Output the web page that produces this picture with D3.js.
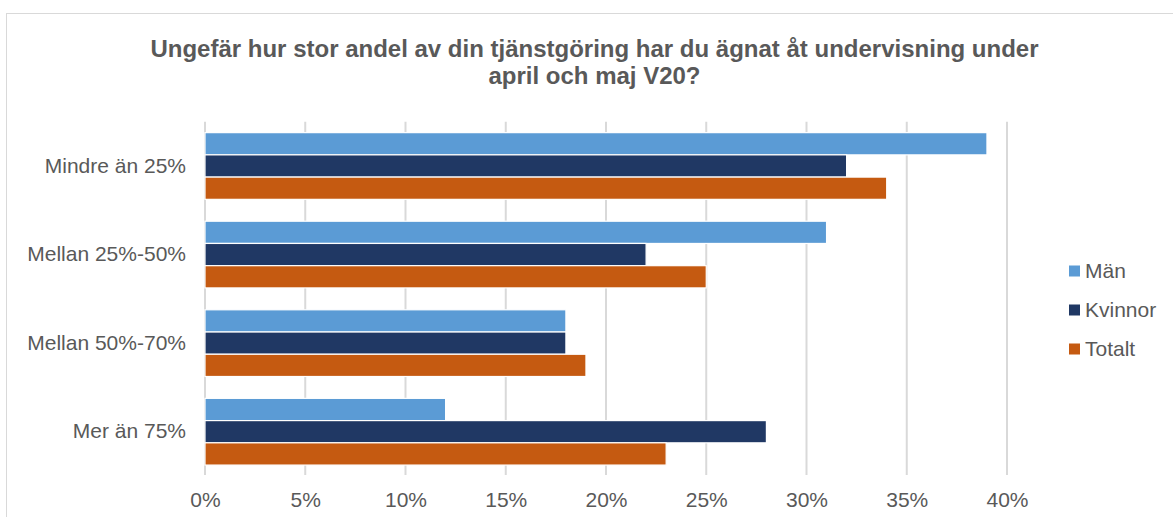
<!DOCTYPE html>
<html>
<head>
<meta charset="utf-8">
<script src="https://cdn.jsdelivr.net/npm/d3@7"></script>
<style>
  body { margin: 0; background: #fff; }
  text { font-family: "Liberation Sans", Arial, sans-serif; }
</style>
</head>
<body>
<svg id="vis" width="1173" height="517"></svg>
<script>
// data
var categories = ["Mindre än 25%", "Mellan 25%-50%", "Mellan 50%-70%", "Mer än 75%"];
var seriesNames = ["Män", "Kvinnor", "Totalt"];
var man = [39, 31, 18, 12];
var kvinnor = [32, 22, 18, 28];
var totalt = [34, 25, 19, 23];
var xTicks = [0, 5, 10, 15, 20, 25, 30, 35, 40];
var titleLines = ["Ungefär hur stor andel av din tjänstgöring har du ägnat åt undervisning under",
                  "april och maj V20?"];

var colors = ["#5B9BD5", "#203864", "#C55A11"];
var seriesValues = [man, kvinnor, totalt];

var svg = d3.select("#vis"),
    width = +svg.attr("width"),
    height = +svg.attr("height");

// chart border
svg.append("rect")
    .attr("x", 6.5).attr("y", 13.5)
    .attr("width", 1176).attr("height", 520)
    .attr("fill", "#fff")
    .attr("stroke", "#D9D9D9")
    .attr("stroke-width", 1);

// title
svg.append("g")
    .selectAll("text")
    .data(titleLines)
    .enter().append("text")
      .attr("x", 594.5)
      .attr("y", function(d, i) { return 56.7 + i * 27.5; })
      .attr("text-anchor", "middle")
      .attr("font-size", "24px")
      .attr("font-weight", "bold")
      .attr("fill", "#595959")
      .text(function(d) { return d; });

var x = d3.scaleLinear().domain([0, 40]).range([205, 1007]);

var y = d3.scaleBand()
    .domain(categories)
    .range([121.7, 476])
    .paddingInner(0.247)
    .paddingOuter(0.1235);

var ySub = d3.scaleBand()
    .domain(seriesNames)
    .range([0, y.bandwidth()]);

// gridlines
svg.append("g")
    .attr("class", "grid")
  .selectAll("line")
  .data(xTicks)
  .enter().append("line")
    .attr("x1", function(d) { return x(d); })
    .attr("x2", function(d) { return x(d); })
    .attr("y1", 121.7)
    .attr("y2", 475)
    .attr("stroke", "#D9D9D9")
    .attr("stroke-width", 2);

// bars
var rows = [];
categories.forEach(function(c, i) {
  seriesNames.forEach(function(s, j) {
    rows.push({cat: c, series: s, value: seriesValues[j][i], color: colors[j]});
  });
});

svg.append("g")
    .attr("class", "bars")
  .selectAll("rect")
  .data(rows)
  .enter().append("rect")
    .attr("x", x(0))
    .attr("y", function(d) { return y(d.cat) + ySub(d.series); })
    .attr("width", function(d) { return x(d.value) - x(0); })
    .attr("height", ySub.bandwidth())
    .attr("fill", function(d) { return d.color; })
    .attr("stroke", "#fff")
    .attr("stroke-width", 1.2);

// x axis
var xAxis = svg.append("g")
    .attr("transform", "translate(0,476)")
    .call(d3.axisBottom(x).tickValues(xTicks).tickSize(0).tickPadding(16)
      .tickFormat(function(d) { return d + "%"; }));
xAxis.select(".domain").remove();
xAxis.selectAll("text")
    .attr("font-size", "21px")
    .attr("font-family", "Liberation Sans, Arial, sans-serif")
    .attr("fill", "#595959");

// y axis
var yAxis = svg.append("g")
    .attr("transform", "translate(205,0)")
    .call(d3.axisLeft(y).tickSize(0).tickPadding(19));
yAxis.select(".domain").remove();
yAxis.selectAll("text")
    .attr("font-size", "21px")
    .attr("font-family", "Liberation Sans, Arial, sans-serif")
    .attr("fill", "#595959");

// legend
var legend = svg.append("g")
    .attr("class", "legend")
  .selectAll("g")
  .data(seriesNames)
  .enter().append("g")
    .attr("transform", function(d, i) { return "translate(1069," + (271 + i * 39) + ")"; });

legend.append("rect")
    .attr("x", 0).attr("y", -5.5)
    .attr("width", 11).attr("height", 11)
    .attr("fill", function(d, i) { return colors[i]; });

legend.append("text")
    .attr("x", 16)
    .attr("dy", "0.35em")
    .attr("font-size", "21px")
    .attr("fill", "#595959")
    .text(function(d) { return d; });
</script>
</body>
</html>
